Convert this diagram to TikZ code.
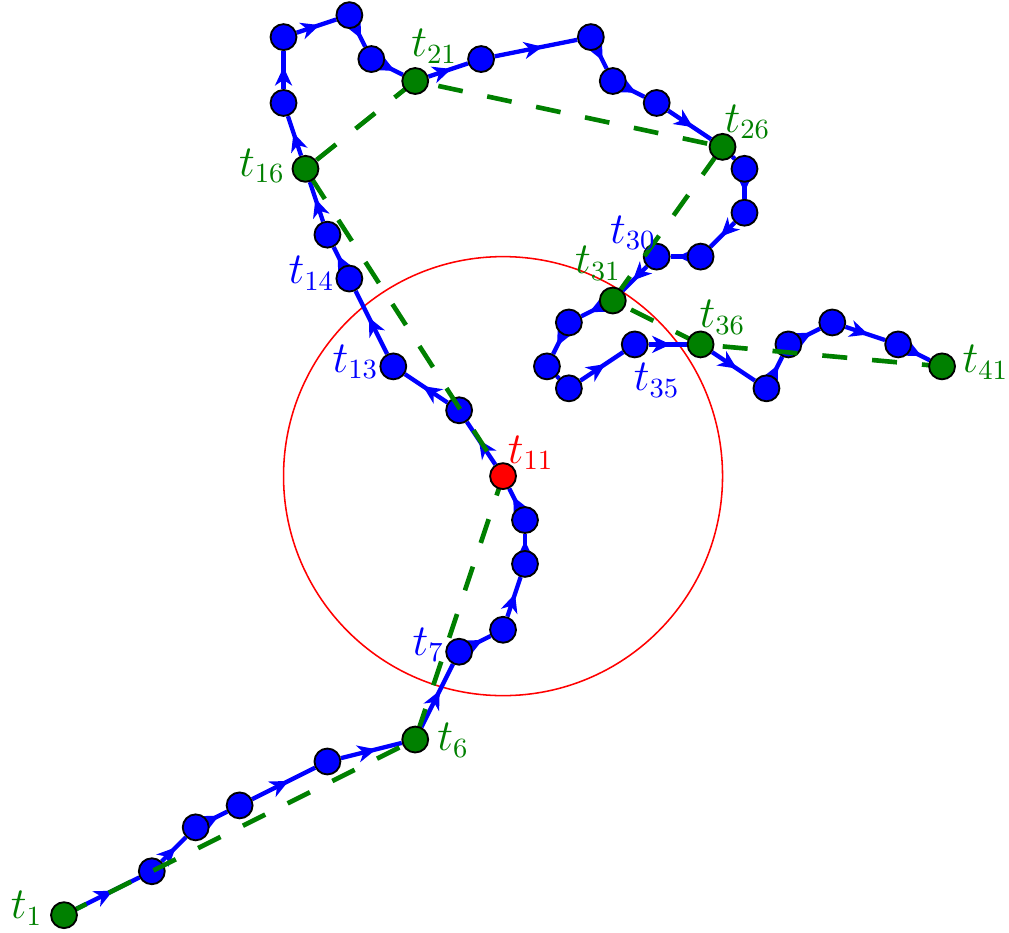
\documentclass[tikz,border=0pt]{standalone}
\usetikzlibrary{decorations.markings,arrows.meta}
\DeclareMathSizes{15}{15}{9.5}{7}
\definecolor{dgreen}{RGB}{0,128,0}
\pgfdeclarelayer{edges}
\pgfdeclarelayer{blues}
\pgfdeclarelayer{trail}
\pgfsetlayers{edges,blues,trail,main}
\tikzset{
  pt/.style={circle, draw=black, line width=0.6pt, inner sep=0pt, minimum size=8.4pt},
  bpt/.style={pt, fill=blue},
  gpt/.style={pt, fill=dgreen},
  rpt/.style={pt, fill=red},
  edge/.style={blue, line width=1.4pt, postaction={decorate},
    decoration={markings, mark=at position 0.58 with {\arrow{Stealth[length=6pt,width=5.5pt,inset=1.8pt]}}}},
  trailline/.style={dgreen, line width=1.5pt, dash pattern=on 8.1pt off 8.1pt},
  lbl/.style={font=\fontsize{15}{18}\selectfont, inner sep=0pt},
}
\begin{document}
\begin{tikzpicture}[x=0.25cm,y=0.25cm]
\useasboundingbox (-2.916,-0.774) rectangle (43.05,41.69);
% blue points
\begin{pgfonlayer}{blues}
\node[bpt] (t2) at (4,2) {};
\node[bpt] (t3) at (6,4) {};
\node[bpt] (t4) at (8,5) {};
\node[bpt] (t5) at (12,7) {};
\node[bpt] (t7) at (18,12) {};
\node[bpt] (t8) at (20,13) {};
\node[bpt] (t9) at (21,16) {};
\node[bpt] (t10) at (21,18) {};
\node[bpt] (t12) at (18,23) {};
\node[bpt] (t13) at (15,25) {};
\node[bpt] (t14) at (13,29) {};
\node[bpt] (t15) at (12,31) {};
\node[bpt] (t17) at (10,37) {};
\node[bpt] (t18) at (10,40) {};
\node[bpt] (t19) at (13,41) {};
\node[bpt] (t20) at (14,39) {};
\node[bpt] (t22) at (19,39) {};
\node[bpt] (t23) at (24,40) {};
\node[bpt] (t24) at (25,38) {};
\node[bpt] (t25) at (27,37) {};
\node[bpt] (t27) at (31,34) {};
\node[bpt] (t28) at (31,32) {};
\node[bpt] (t29) at (29,30) {};
\node[bpt] (t30) at (27,30) {};
\node[bpt] (t32) at (23,27) {};
\node[bpt] (t33) at (22,25) {};
\node[bpt] (t34) at (23,24) {};
\node[bpt] (t35) at (26,26) {};
\node[bpt] (t37) at (32,24) {};
\node[bpt] (t38) at (33,26) {};
\node[bpt] (t39) at (35,27) {};
\node[bpt] (t40) at (38,26) {};
\end{pgfonlayer}
% sampled points
\node[gpt] (t1) at (0,0) {};
\node[gpt] (t6) at (16,8) {};
\node[rpt] (t11) at (20,20) {};
\node[gpt] (t16) at (11,34) {};
\node[gpt] (t21) at (16,38) {};
\node[gpt] (t26) at (30,35) {};
\node[gpt] (t31) at (25,28) {};
\node[gpt] (t36) at (29,26) {};
\node[gpt] (t41) at (40,25) {};
% edges and circle
\begin{pgfonlayer}{edges}
\draw[red, line width=0.5pt] (t11.center) circle[radius=2.5cm];
\foreach \i [evaluate=\i as \j using int(\i+1)] in {1,...,40}
  \draw[edge] (t\i) -- (t\j);
\end{pgfonlayer}
\begin{pgfonlayer}{trail}
\draw[trailline] (t1.center) -- (t6.center) -- (t11.center) -- (t16.center) -- (t21.center)
  -- (t26.center) -- (t31.center) -- (t36.center) -- (t41.center);
\end{pgfonlayer}
% labels
\node[lbl, text=dgreen] (l1) at ([shift={(-1.70,0.32)}]t1.center) {$t_{1}$};
\node[lbl, text=dgreen] (l6) at ([shift={(1.73,-0.05)}]t6.center) {$t_{6}$};
\node[lbl, text=blue] (l7) at ([shift={(-1.40,0.32)}]t7.center) {$t_{7}$};
\node[lbl, text=red] (l11) at ([shift={(1.26,1.06)}]t11.center) {$t_{11}$};
\node[lbl, text=blue] (l13) at ([shift={(-1.72,0.20)}]t13.center) {$t_{13}$};
\node[lbl, text=blue] (l14) at ([shift={(-1.72,0.25)}]t14.center) {$t_{14}$};
\node[lbl, text=dgreen] (l16) at ([shift={(-1.98,0.13)}]t16.center) {$t_{16}$};
\node[lbl, text=dgreen] (l21) at ([shift={(0.87,1.59)}]t21.center) {$t_{21}$};
\node[lbl, text=dgreen] (l26) at ([shift={(1.14,1.14)}]t26.center) {$t_{26}$};
\node[lbl, text=blue] (l30) at ([shift={(-1.08,1.09)}]t30.center) {$t_{30}$};
\node[lbl, text=dgreen] (l31) at ([shift={(-0.67,1.69)}]t31.center) {$t_{31}$};
\node[lbl, text=blue] (l35) at ([shift={(1.0,-1.63)}]t35.center) {$t_{35}$};
\node[lbl, text=dgreen] (l36) at ([shift={(1.0,1.23)}]t36.center) {$t_{36}$};
\node[lbl, text=dgreen] (l41) at ([shift={(1.98,0.18)}]t41.center) {$t_{41}$};
\end{tikzpicture}
\end{document}
